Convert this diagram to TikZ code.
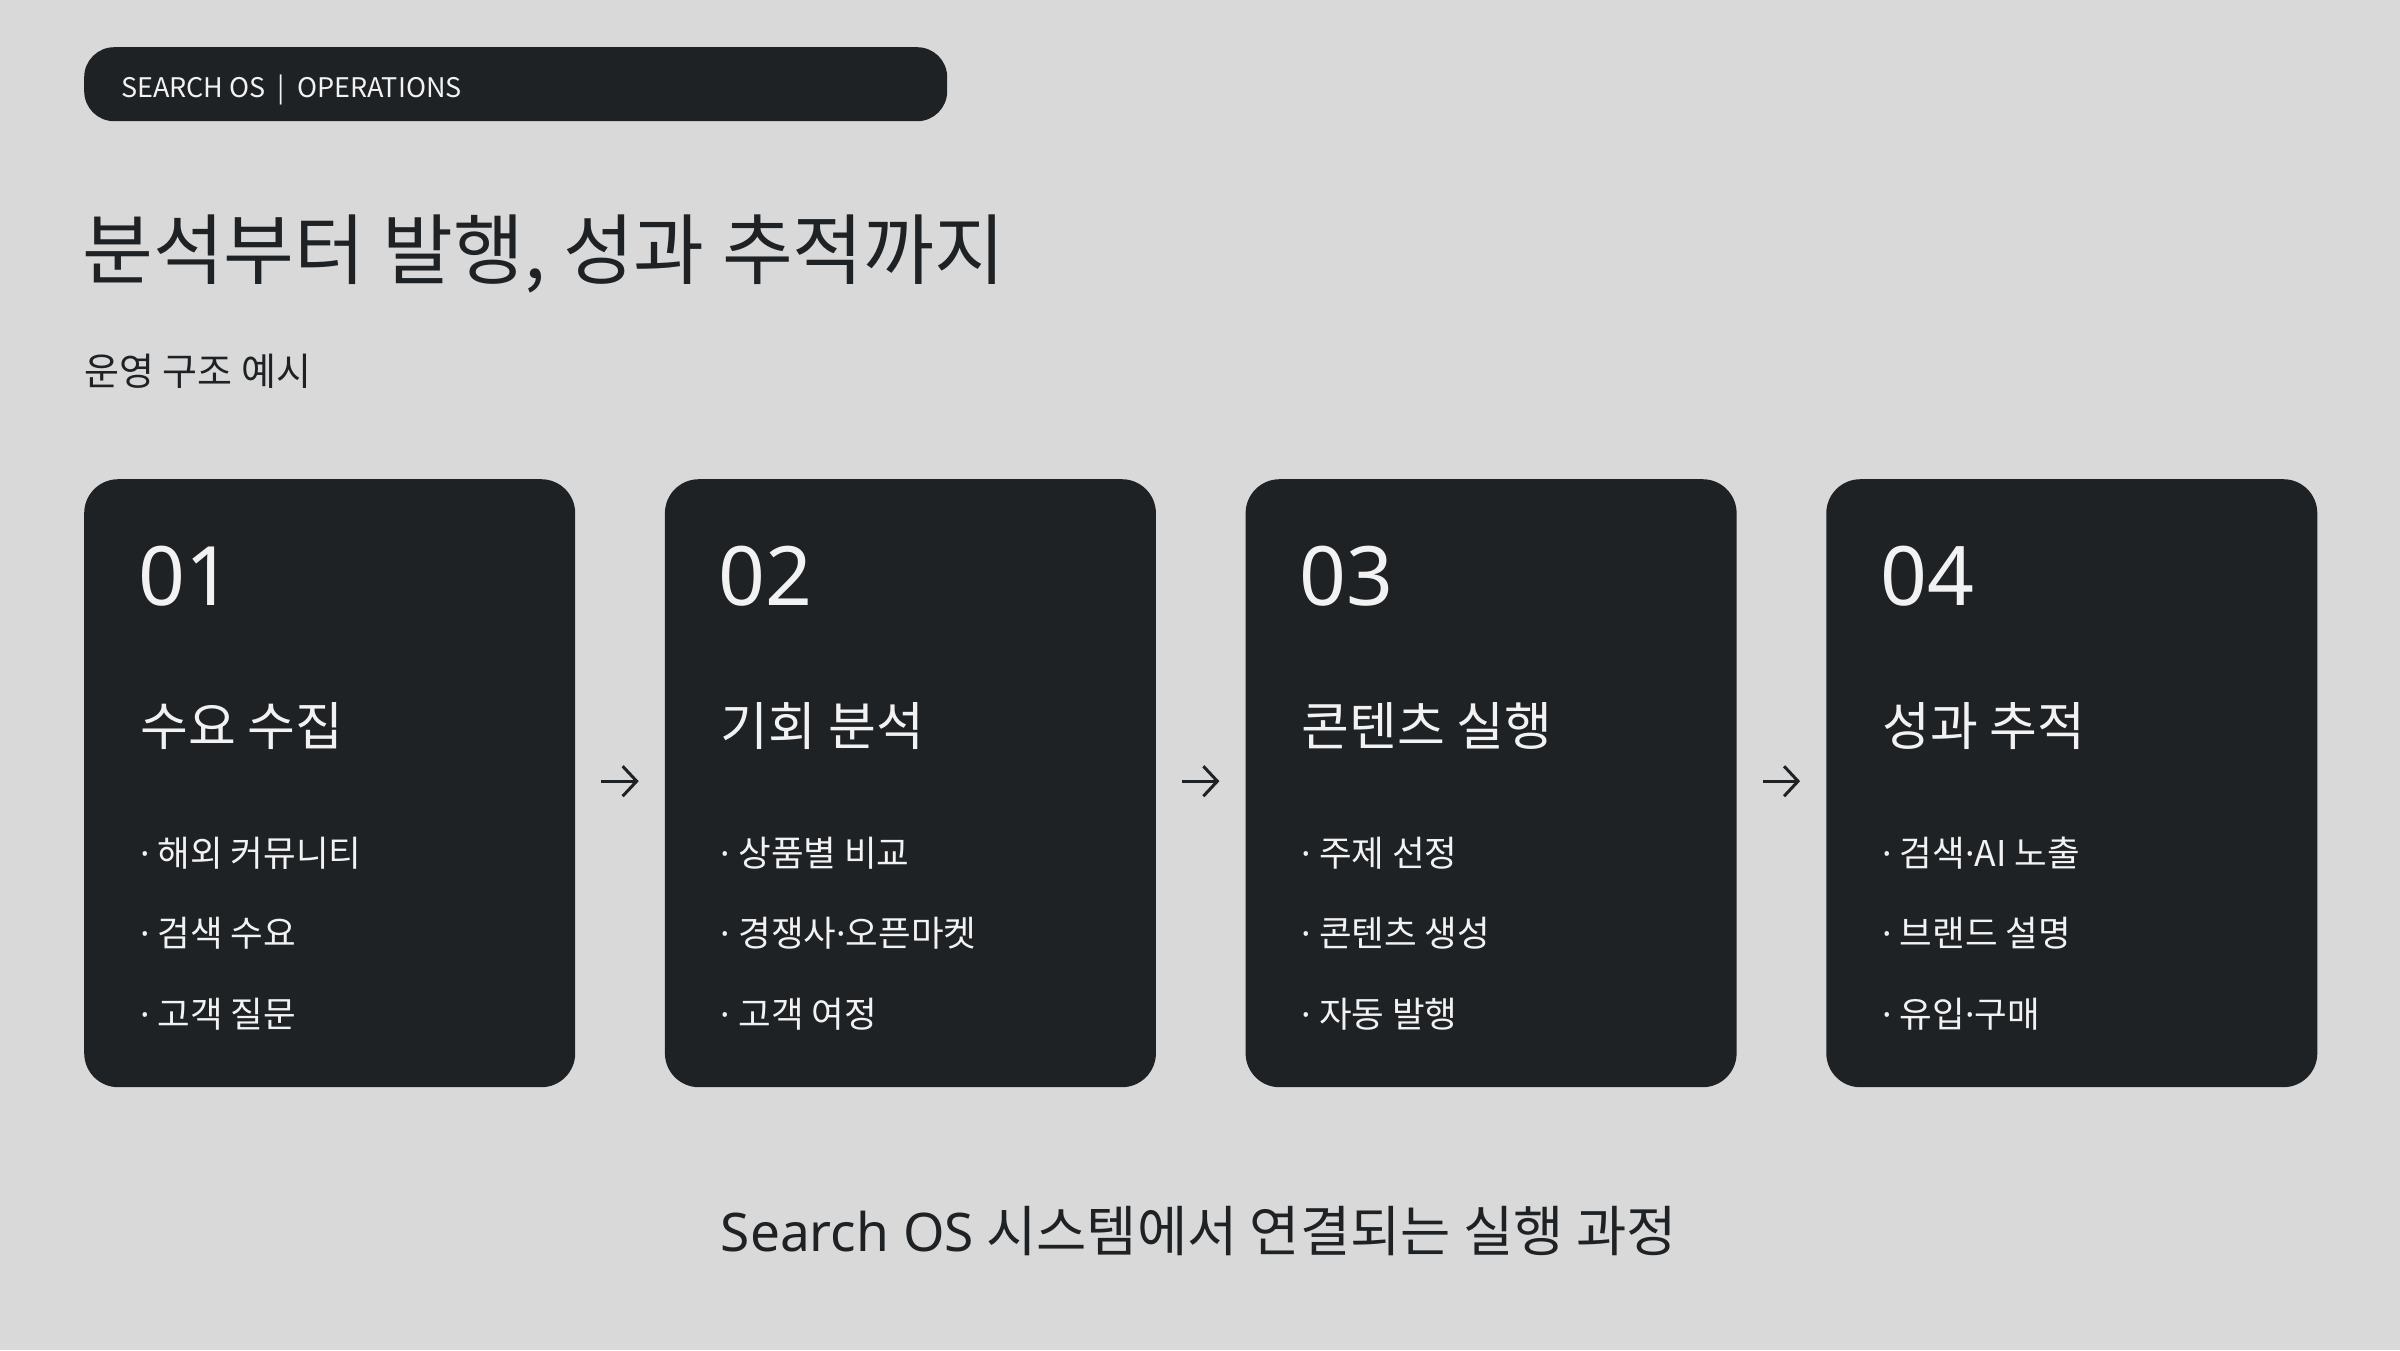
\documentclass[tikz,border=0pt]{standalone}
\usepackage{fontspec}
\setmainfont{Noto Sans CJK KR}
\newfontfamily\latn{Noto Sans}
\usetikzlibrary{arrows.meta}
\definecolor{bg}{HTML}{D9D9D9}
\definecolor{ink}{HTML}{1E2225}
\definecolor{paper}{HTML}{F2F2F2}
\newcommand{\fs}[1]{\fontsize{#1}{#1}\selectfont}
\newcommand{\md}{{\latn ·}}
\tikzset{
  card/.style={fill=ink, rounded corners=34pt, minimum width=491pt, minimum height=608pt, inner sep=0pt, draw=none},
  numtxt/.style={text=paper, font=\fs{82}\latn, inner sep=0pt},
  headtxt/.style={text=paper, font=\fs{52}, inner sep=0pt},
  bultxt/.style={text=paper, font=\fs{35.5}, inner sep=0pt},
  arr/.style={draw=ink, line width=3pt, -{Straight Barb[length=14pt,width=30pt,line width=3pt]}},
}
\begin{document}
\begin{tikzpicture}[x=1pt,y=-1pt]
\fill[bg] (0,0) rectangle (2400,1350);
\useasboundingbox (0,0) rectangle (2400,1350);

\node[fill=ink, rounded corners=30pt, minimum width=863pt, minimum height=74pt, inner sep=0pt, anchor=north west] (pill) at (84,47) {};
\node[text=paper, font=\fs{27}, inner sep=0pt, anchor=base west] (pilltxt) at (121,97) {SEARCH OS\hspace{12pt}|\hspace{12pt}OPERATIONS};

\node[text=ink, font=\fs{77}, inner sep=0pt, anchor=base west] (title) at (82,278) {분석부터 발행, 성과 추적까지};
\node[text=ink, font=\fs{38}, inner sep=0pt, anchor=base west] (sub) at (84,385) {운영 구조 예시};

\foreach \i/\num/\head/\ba/\bb/\bc in {
  0/01/수요 수집/해외 커뮤니티/검색 수요/고객 질문,
  1/02/기회 분석/상품별 비교/경쟁사\md 오픈마켓/고객 여정,
  2/03/콘텐츠 실행/주제 선정/콘텐츠 생성/자동 발행,
  3/04/성과 추적/검색\md AI 노출/브랜드 설명/유입\md 구매}
{
  \node[card, anchor=north west] (c\num) at (84+\i*580.7,479) {};
  \node[numtxt, anchor=base west] (n\num) at ([shift={(54,126)}]c\num.north west) {\num};
  \node[headtxt, anchor=base west] (h\num) at ([shift={(56,266)}]c\num.north west) {\head};
  \node[bultxt, anchor=base west] (ba\num) at ([shift={(56,387)}]c\num.north west) {\md{} \ba};
  \node[bultxt, anchor=base west] (bb\num) at ([shift={(56,467)}]c\num.north west) {\md{} \bb};
  \node[bultxt, anchor=base west] (bc\num) at ([shift={(56,548)}]c\num.north west) {\md{} \bc};
}
\foreach \a/\b in {01/02,02/03,03/04}
  \draw[arr] ([xshift=26pt,yshift=2pt]c\a.east) -- ([xshift=-26pt,yshift=2pt]c\b.west);

\node[text=ink, font=\fs{54.7}, inner sep=0pt, anchor=base] (foot) at (1199,1251) {{\latn\fontsize{53.2}{53.2}\selectfont Search OS} 시스템에서 연결되는 실행 과정};
\end{tikzpicture}
\end{document}
